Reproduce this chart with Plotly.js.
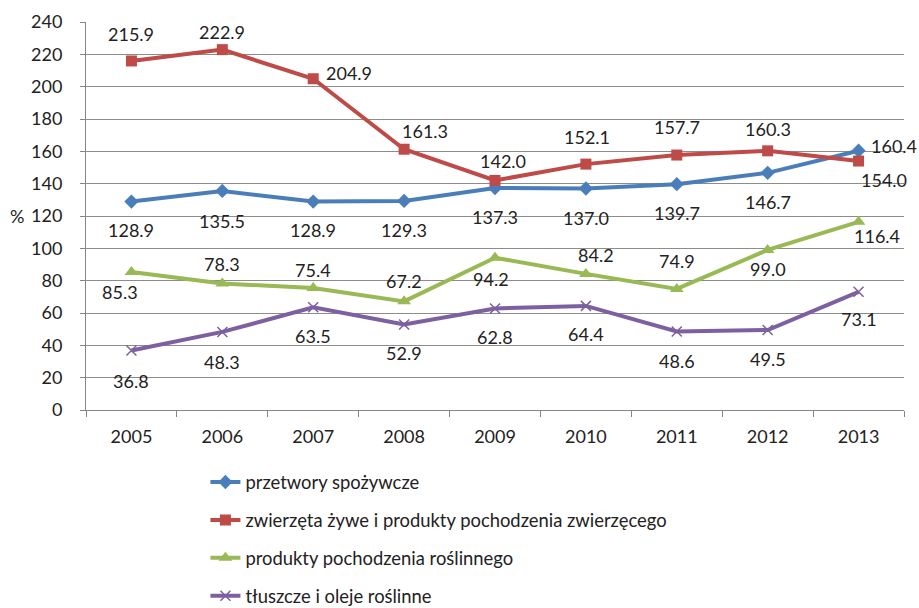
<!DOCTYPE html>
<html>
<head>
<meta charset="utf-8">
<script src="https://cdn.plot.ly/plotly-3.0.1.min.js"></script>
<style>html,body{margin:0;padding:0;background:#fff}#chart{width:919px;height:608px}</style>
</head>
<body>
<div id="chart"></div>
<script>
const years = ['2005','2006','2007','2008','2009','2010','2011','2012','2013'];
const seriesNames = [
  'przetwory spożywcze',
  'zwierzęta żywe i produkty pochodzenia zwierzęcego',
  'produkty pochodzenia roślinnego',
  'tłuszcze i oleje roślinne'
];
const przetwory = [128.9, 135.5, 128.9, 129.3, 137.3, 137.0, 139.7, 146.7, 160.4];
const zwierzeta = [215.9, 222.9, 204.9, 161.3, 142.0, 152.1, 157.7, 160.3, 154.0];
const roslinne  = [85.3, 78.3, 75.4, 67.2, 94.2, 84.2, 74.9, 99.0, 116.4];
const tluszcze  = [36.8, 48.3, 63.5, 52.9, 62.8, 64.4, 48.6, 49.5, 73.1];

// label placement (pixel shifts from each point; y up positive)
const labelShift = [
  [[0,-28],[0,-30],[0,-28],[0,-29],[0,-29],[0,-29],[0,-29],[0,-29],[35,5]],
  [[0,27],[0,18],[36,6],[21,18],[8,19],[1,27],[0,28],[0,22],[25,-19]],
  [[-11,-20],[0,19],[0,18],[0,20],[-4,-21],[10,19],[0,28],[0,-19],[18,-14]],
  [[0,-30],[0,-30],[0,-29],[0,-29],[0,-29],[0,-28],[0,-30],[0,-29],[0,-27]]
];

const data = [przetwory, zwierzeta, roslinne, tluszcze];
const colors = ['#4A7EBB', '#BE4B48', '#98B954', '#7D60A0'];
const markers = [
  {symbol:'diamond', size:11},
  {symbol:'square', size:11},
  {symbol:'triangle-up', size:12},
  {symbol:'x-thin', size:10}
];
const FONT = 'Lato, Carlito, sans-serif';

const traces = data.map((vals, i) => ({
  type:'scatter', mode:'lines+markers', x: years, y: vals, name: seriesNames[i],
  legendgroup: 'g'+i,
  line:{color:colors[i], width:4},
  marker: Object.assign({color:colors[i], line:{color:colors[i], width: i===3 ? 1.5 : 0}}, markers[i]),
  cliponaxis:false
}));

const annotations = [];
data.forEach((vals, i) => {
  vals.forEach((v, j) => {
    annotations.push({
      x: j, y: v, xref:'x', yref:'y', text: v.toFixed(1), showarrow:false,
      xshift: labelShift[i][j][0], yshift: labelShift[i][j][1],
      font:{family:FONT, size:18, color:'#222'}
    });
  });
});
annotations.push({
  xref:'paper', yref:'y', x:0, y:120, xshift:-78, text:'%', showarrow:false,
  font:{family:FONT, size:18, color:'#222'}
});

const layout = {
  width:919, height:608,
  margin:{l:86, r:15, t:22, b:198, autoexpand:false},
  paper_bgcolor:'#fff', plot_bgcolor:'#fff',
  font:{family:FONT, size:18, color:'#222'},
  showlegend:true,
  legend:{x:0.146, xanchor:'left', y:-0.138, yanchor:'top', orientation:'v',
    traceorder:'grouped', tracegroupgap:11, font:{size:18.4, color:'#222'}, bgcolor:'rgba(0,0,0,0)'},
  xaxis:{type:'category', range:[-0.5, 8.5], showgrid:false, showline:true, linecolor:'#868686', linewidth:1,
    ticks:'outside', tickson:'boundaries', ticklen:6, tickcolor:'#868686', tickfont:{size:18},
    ticklabelstandoff:10, zeroline:false},
  yaxis:{range:[0,240], dtick:20, showgrid:true, gridcolor:'#8c8c8c', gridwidth:1, showline:true,
    linecolor:'#868686', linewidth:1, ticks:'outside', ticklen:5, tickcolor:'#868686', tickfont:{size:18},
    ticklabelstandoff:14, zeroline:false},
  annotations: annotations
};

Plotly.newPlot('chart', traces, layout, {staticPlot:true, displayModeBar:false});
</script>
</body>
</html>
